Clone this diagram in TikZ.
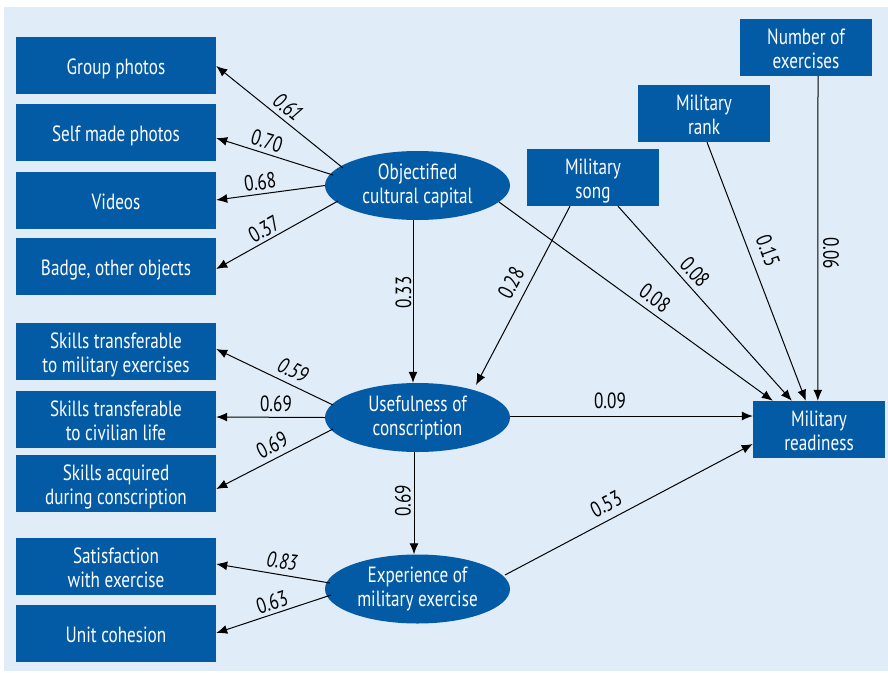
\documentclass[tikz,border=0pt]{standalone}
\usepackage{fontspec}
\setmainfont{PT Sans}[FakeStretch=0.78]
\usetikzlibrary{arrows.meta,calc,shapes.geometric}
\definecolor{bg}{RGB}{224,236,248}
\definecolor{boxblue}{RGB}{3,90,165}
\tikzset{
  box/.style={fill=boxblue,text=white,align=center,inner sep=0pt,
    font=\fontsize{22}{24}\selectfont,
    execute at end node={\rule[-5pt]{0pt}{5pt}}},
  oneline/.style={execute at begin node={\rule{0pt}{23pt}}},
  twoline/.style={execute at begin node={\rule{0pt}{47pt}}},
  lbox/.style={box,minimum width=200pt,minimum height=57pt},
  rbox/.style={box,minimum width=132pt,minimum height=57pt},
  latent/.style={ellipse,fill=boxblue,text=white,align=center,inner sep=0pt,
    minimum width=185pt,minimum height=69pt,font=\fontsize{22}{24}\selectfont},
  conn/.style={draw=black,line width=1pt,-{Latex[length=11pt,width=9pt]}},
  coef/.style={inner sep=0pt,font=\fontsize{22}{24}\selectfont},
  icoef/.style={coef,font=\fontsize{22}{24}\selectfont\itshape}
}
\begin{document}
\begin{tikzpicture}[x=1pt,y=-1pt]
\useasboundingbox (0,0) rectangle (888,672);
\fill[white] (0,0) rectangle (888,672);
\fill[bg] (4,7) rectangle (888,671);
% left boxes
\node[lbox,oneline] (gp) at (116,65.5) {Group photos};
\node[lbox,oneline] (smp) at (116,132.5) {Self made photos};
\node[lbox,oneline] (vid) at (116,200.5) {Videos};
\node[lbox,oneline] (bad) at (116,266.5) {Badge, other objects};
\node[lbox,twoline] (stm) at (116,351.5) {Skills transferable\\to military exercises};
\node[lbox,twoline] (stc) at (116,419.5) {Skills transferable\\to civilian life};
\node[lbox,twoline] (sac) at (116,483.5) {Skills acquired\\during conscription};
\node[lbox,twoline] (sat) at (116,566.5) {Satisfaction\\with exercise};
\node[lbox,oneline] (uc) at (116,633.5) {Unit cohesion};
% right boxes
\node[rbox,twoline] (num) at (806,47.5) {Number of\\exercises};
\node[rbox,twoline] (rank) at (704,113.5) {Military\\rank};
\node[rbox,twoline] (song) at (593,177.5) {Military\\song};
\node[rbox,twoline] (ready) at (819,429.5) {Military\\readiness};
% latent
\node[latent] (obj) at (417.5,185.5) {Objectified\\cultural capital};
\node[latent] (use) at (417.5,417.5) {Usefulness of\\conscription};
\node[latent] (exp) at (417.5,589) {Experience of\\military exercise};
% connectors from obj
\draw[conn] ($(obj.center)+(-74.5,-17.5)$) -- ($(gp.east)+(0,0.5)$);
\draw[conn] ($(obj.center)+(-84.5,-10.5)$) -- ($(smp.east)+(0,5.5)$);
\draw[conn] ($(obj.center)+(-92.5,0)$) -- ($(vid.east)+(0,-0.5)$);
\draw[conn] ($(obj.center)+(-79.5,15.5)$) -- ($(bad.east)+(0,2.5)$);
\draw[conn] ($(obj.south)+(-4.5,0)$) -- ($(use.north)+(-4.5,0)$);
\draw[conn] ($(obj.center)+(81.5,16.5)$) -- ($(ready.north west)+(20,0)$);
% from use
\draw[conn] ($(use.center)+(-84.5,-12.5)$) -- ($(stm.east)+(0,-2.5)$);
\draw[conn] ($(use.center)+(-92.5,0)$) -- ($(stc.east)+(0,-2.5)$);
\draw[conn] ($(use.center)+(-84.5,11.5)$) -- ($(sac.east)+(0,5.5)$);
\draw[conn] ($(use.south)+(-3.5,0)$) -- ($(exp.north)+(-3.5,0)$);
\draw[conn] ($(use.center)+(92.5,-1.5)$) -- ($(ready.west)+(0,-13.5)$);
% from exp
\draw[conn] ($(exp.center)+(-87.5,-6)$) -- ($(sat.east)+(0,-2.5)$);
\draw[conn] ($(exp.center)+(-86.5,6)$) -- ($(uc.east)+(0,-0.5)$);
\draw[conn] ($(exp.center)+(87.5,-14)$) -- ($(ready.west)+(0,14.5)$);
% from right boxes
\draw[conn] ($(song.south)+(-23,0)$) -- ($(use.center)+(58.5,-32.5)$);
\draw[conn] ($(song.south)+(25,0)$) -- ($(ready.north west)+(39,0)$);
\draw[conn] ($(rank.south)+(3,0)$) -- ($(ready.north west)+(53,0)$);
\draw[conn] ($(num.south)+(12,0)$) -- ($(ready.north west)+(65,0)$);
% coefficients
\node[icoef,rotate=-39] (c1) at (288,107) {0.61};
\node[coef,rotate=-17] (c2) at (267,141) {0.70};
\node[coef,rotate=8] (c3) at (260,182) {0.68};
\node[coef,rotate=29] (c4) at (264,229) {0.37};
\node[coef,rotate=90] (c5) at (403.5,292.5) {0.33};
\node[coef,rotate=62] (c6) at (511,283) {0.28};
\node[coef,rotate=-36] (c7) at (655,298) {0.08};
\node[coef,rotate=-48] (c8) at (695,272) {0.08};
\node[coef,rotate=-70] (c9) at (768,251) {0.15};
\node[coef,rotate=-90] (c10) at (831,253) {0.06};
\node[icoef,rotate=-26] (c11) at (293,370) {0.59};
\node[coef] (c12) at (276,404) {0.69};
\node[coef,rotate=27] (c13) at (272,445) {0.69};
\node[coef,rotate=90] (c14) at (403,501) {0.69};
\node[icoef,rotate=-8] (c15) at (282,561) {0.83};
\node[coef,rotate=18] (c16) at (272,602) {0.63};
\node[coef] (c17) at (610,401) {0.09};
\node[coef,rotate=27] (c18) at (606,504) {0.53};
\end{tikzpicture}
\end{document}
